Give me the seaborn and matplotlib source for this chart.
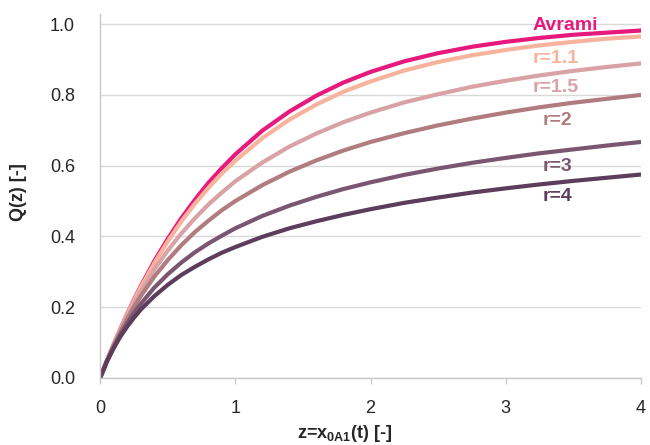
import numpy as np
import pandas as pd
import matplotlib
matplotlib.use("Agg")
import matplotlib.pyplot as plt
import seaborn as sns

# Conversion Q(z) for the Avrami model and for several values of r
z = [0.0, 0.05, 0.1, 0.15, 0.2, 0.25, 0.3, 0.4, 0.5, 0.6, 0.7, 0.8, 0.9, 1.0,
     1.2, 1.4, 1.6, 1.8, 2.0, 2.25, 2.5, 2.75, 3.0, 3.25, 3.5, 3.75, 4.0]
q_avrami = [0.0, 0.049, 0.095, 0.139, 0.181, 0.221, 0.259, 0.330, 0.393, 0.451,
            0.503, 0.551, 0.593, 0.632, 0.699, 0.753, 0.798, 0.835, 0.865,
            0.895, 0.918, 0.936, 0.950, 0.961, 0.970, 0.976, 0.982]
q_r11 = [0.0, 0.049, 0.095, 0.138, 0.180, 0.219, 0.256, 0.324, 0.386, 0.442,
         0.492, 0.537, 0.578, 0.614, 0.678, 0.730, 0.773, 0.809, 0.838,
         0.869, 0.893, 0.912, 0.927, 0.940, 0.950, 0.959, 0.965]
q_r15 = [0.0, 0.048, 0.093, 0.135, 0.174, 0.210, 0.244, 0.306, 0.360, 0.408,
         0.451, 0.490, 0.524, 0.556, 0.609, 0.654, 0.691, 0.723, 0.750,
         0.779, 0.802, 0.823, 0.840, 0.855, 0.868, 0.879, 0.889]
q_r2 = [0.0, 0.048, 0.091, 0.130, 0.167, 0.200, 0.231, 0.286, 0.333, 0.375,
        0.412, 0.444, 0.474, 0.500, 0.545, 0.583, 0.615, 0.643, 0.667,
        0.692, 0.714, 0.733, 0.750, 0.765, 0.778, 0.789, 0.800]
q_r3 = [0.0, 0.047, 0.087, 0.123, 0.155, 0.184, 0.209, 0.255, 0.293, 0.326,
        0.355, 0.380, 0.402, 0.423, 0.458, 0.487, 0.512, 0.534, 0.553,
        0.574, 0.592, 0.608, 0.622, 0.635, 0.646, 0.657, 0.667]
q_r4 = [0.0, 0.046, 0.084, 0.117, 0.145, 0.170, 0.193, 0.231, 0.263, 0.291,
        0.314, 0.335, 0.354, 0.370, 0.399, 0.423, 0.443, 0.461, 0.477,
        0.495, 0.510, 0.524, 0.536, 0.547, 0.557, 0.566, 0.575]

series_names = ["Avrami", "r=1.1", "r=1.5", "r=2", "r=3", "r=4"]
series_values = [q_avrami, q_r11, q_r15, q_r2, q_r3, q_r4]
colors = ["#E8197D", "#F8B39C", "#D8A2A6", "#B07C80", "#7A5670", "#5C3D5B"]

x_ticks = [0, 1, 2, 3, 4]
y_ticks = [0.0, 0.2, 0.4, 0.6, 0.8, 1.0]

df = pd.DataFrame({
    "z": np.tile(z, len(series_names)),
    "Q": np.concatenate(series_values),
    "series": np.repeat(series_names, len(z)),
})

sns.set_theme(style="white")
plt.rcParams["font.family"] = ["Liberation Sans", "DejaVu Sans"]
plt.rcParams["mathtext.fontset"] = "custom"
plt.rcParams["mathtext.rm"] = "Liberation Sans"
plt.rcParams["mathtext.bf"] = "Liberation Sans:bold"

fig = plt.figure(figsize=(6.5, 4.45), dpi=100)
ax = fig.add_axes([0.154, 0.1506, 0.832, 0.819])

sns.lineplot(data=df, x="z", y="Q", hue="series", hue_order=series_names,
             palette=colors, linewidth=3.0, legend=False, ax=ax)
for line in ax.get_lines():
    line.set_solid_joinstyle("round")

ax.set_xlim(0, 4)
ax.set_ylim(0, 1.03)
ax.set_xticks(x_ticks)
ax.set_xticklabels([str(t) for t in x_ticks])
ax.set_yticks(y_ticks)
ax.set_yticklabels([f"{t:.1f}" for t in y_ticks])

ax.yaxis.grid(True, color="#D9D9D9", linewidth=1.0)
ax.xaxis.grid(False)
ax.set_axisbelow(True)
for side in ["top", "right"]:
    ax.spines[side].set_visible(False)
for side in ["left", "bottom"]:
    ax.spines[side].set_color("#C8C8C8")
    ax.spines[side].set_linewidth(1.0)

ax.tick_params(axis="x", which="major", bottom=True, length=4, width=1,
               color="#C8C8C8", pad=12, labelsize=13, labelcolor="#262626")
ax.tick_params(axis="y", which="major", left=False, pad=12, labelsize=13,
               labelcolor="#262626")

ax.set_xlabel(r"z=x$_{\mathbf{0A1}}$(t) [-]", fontsize=13, fontweight="bold",
              color="#262626")
ax.xaxis.set_label_coords(0.453, -0.181)
ax.xaxis.label.set_va("bottom")
ax.set_ylabel("Q(z) [-]", fontsize=13, fontweight="bold", color="#262626")
ax.yaxis.set_label_coords(-0.15, 0.51)
ax.yaxis.label.set_va("center")

# Curve labels at the right end of each line
label_pos = {
    "Avrami": (3.20, 0.997),
    "r=1.1": (3.20, 0.903),
    "r=1.5": (3.20, 0.821),
    "r=2": (3.27, 0.729),
    "r=3": (3.27, 0.599),
    "r=4": (3.27, 0.514),
}
for name, col in zip(series_names, colors):
    xp, yp = label_pos[name]
    ax.text(xp, yp, name, color=col, fontsize=14, fontweight="bold",
            ha="left", va="center", clip_on=False)

fig.savefig("out.png", dpi=100)
